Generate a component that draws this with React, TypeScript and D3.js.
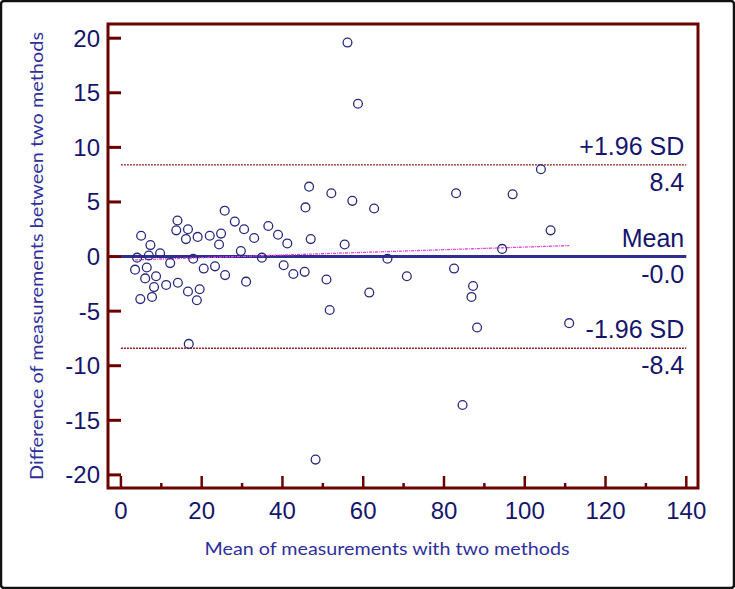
import React from 'react'
import * as d3 from 'd3'

// mean of the two methods (x) and their difference (y), one entry per case
const means = [
  25.7, 45.7, 14.0, 28.2, 36.5, 13.7, 16.6, 30.5, 5.0, 16.1, 19.0, 22.0, 24.8, 24.3, 33.0, 38.9,
  41.2, 47.0, 7.3, 29.7, 4.0, 6.9, 9.7, 17.9, 34.9, 12.2, 3.5, 6.4, 20.5, 23.3, 40.3, 6.0, 8.7,
  25.8, 42.7, 45.5, 11.2, 8.2, 14.1, 31.0, 16.6, 19.5, 4.8, 7.7, 18.8, 16.8, 50.9, 51.7,
  56.1, 58.7, 104.0, 46.6, 52.1, 57.3, 62.7, 83.0, 97.0, 55.4, 94.4, 106.4, 66.0, 82.5, 70.8,
  87.2, 86.8, 61.5, 88.2, 84.6, 48.2, 111.0,
]
const diffs = [
  4.2, 4.5, 3.3, 3.2, 2.8, 2.4, 2.5, 2.5, 1.9, 1.6, 1.8, 1.9, 2.1, 1.1, 1.7, 2.0,
  1.2, 1.6, 1.05, 0.5, -0.1, 0.1, 0.3, -0.2, -0.1, -0.6, -1.2, -1.0, -1.1, -0.9, -0.8, -2.0, -1.8,
  -1.7, -1.6, -1.4, -2.6, -2.8, -2.4, -2.3, -3.2, -3.0, -3.9, -3.7, -4.0, -8.0, -2.1, -4.9,
  19.6, 14.0, 8.0, 6.4, 5.8, 5.1, 4.4, 5.8, 5.7, 1.1, 0.7, 2.4, -0.2, -1.1, -1.8,
  -2.7, -3.7, -3.3, -6.5, -13.6, -18.6, -6.1,
]

// mean difference and limits of agreement
const refValues = [8.4, -0.0, -8.4]
const refTopLabels = ['+1.96 SD', 'Mean', '-1.96 SD']
const refBottomLabels = ['8.4', '-0.0', '-8.4']

// regression of difference on mean
const regIntercept = -0.35
const regSlope = 0.0122

const xTicks = [0, 20, 40, 60, 80, 100, 120, 140]
const xMinorTicks = [10, 30, 50, 70, 90, 110, 130]
const yTicks = [-20, -15, -10, -5, 0, 5, 10, 15, 20]

const W = 735
const H = 589
const plot = { left: 108, top: 24, right: 698, bottom: 488 }
const frameColor = '#6a0000'
const navy = '#15156b'
const titleColor = '#2f2f9a'
const tickFont = "'Liberation Sans', Arial, sans-serif"

export default function App() {
  const x = d3.scaleLinear().domain([-3.2, 142.9]).range([plot.left, plot.right])
  const y = d3.scaleLinear().domain([-21.2, 21.3]).range([plot.bottom, plot.top])

  const xMin = d3.min(means) as number
  const xMax = d3.max(means) as number
  const regLine = d3
    .line<number>()
    .x((d) => x(d))
    .y((d) => y(regIntercept + regSlope * d))

  return (
    <div style={{ position: 'absolute', left: 0, top: 0 }}>
      <svg width={W} height={H} style={{ display: 'block', background: '#fff' }}>
        <rect x={1} y={1} width={W - 2} height={H - 2} fill="#fff" stroke="#111" strokeWidth={2.5} rx={3} />

        {/* reference lines */}
        {refValues.map((v, i) =>
          i === 1 ? (
            <line key={i} x1={x(0)} x2={x(140)} y1={y(v)} y2={y(v)} stroke="#2e2e8c" strokeWidth={3} />
          ) : (
            <line
              key={i}
              x1={x(0)}
              x2={x(140)}
              y1={y(v)}
              y2={y(v)}
              stroke="#8b2020"
              strokeWidth={1.3}
              strokeDasharray="2,1"
            />
          )
        )}
        <path
          d={regLine([xMin, xMax]) || ''}
          fill="none"
          stroke="#e040e0"
          strokeWidth={1.3}
          strokeDasharray="3,1,1,1"
        />

        {refValues.map((v, i) => (
          <g key={'lab' + i} fontFamily={tickFont} fontSize={25} fill={navy} textAnchor="end">
            <text x={x(140) - 2} y={y(v) - 10}>{refTopLabels[i]}</text>
            <text x={x(140) - 2} y={y(v) + 26}>{refBottomLabels[i]}</text>
          </g>
        ))}

        {/* points */}
        {means.map((m, i) => (
          <circle key={i} cx={x(m)} cy={y(diffs[i])} r={4.4} fill="none" stroke="#28287e" strokeWidth={1.3} />
        ))}

        {/* ticks */}
        {yTicks.map((t) => (
          <line key={'yt' + t} x1={plot.left} x2={plot.left + 13} y1={y(t)} y2={y(t)} stroke={frameColor} strokeWidth={3} />
        ))}
        {xTicks.map((t) => (
          <line key={'xt' + t} x1={x(t)} x2={x(t)} y1={plot.bottom} y2={plot.bottom - 12} stroke={frameColor} strokeWidth={2.5} />
        ))}
        {xMinorTicks.map((t) => (
          <line key={'xm' + t} x1={x(t)} x2={x(t)} y1={plot.bottom} y2={plot.bottom - 5} stroke={frameColor} strokeWidth={2.5} />
        ))}

        <rect
          x={plot.left}
          y={plot.top}
          width={plot.right - plot.left}
          height={plot.bottom - plot.top}
          fill="none"
          stroke={frameColor}
          strokeWidth={3}
        />

        {/* tick labels */}
        <g fontFamily={tickFont} fontSize={24} fill={navy}>
          {yTicks.map((t) => (
            <text key={'yl' + t} x={plot.left - 8} y={y(t) + 8.5} textAnchor="end">
              {t}
            </text>
          ))}
          {xTicks.map((t) => (
            <text key={'xl' + t} x={x(t)} y={plot.bottom + 31} textAnchor="middle">
              {t}
            </text>
          ))}
        </g>

        {/* axis titles */}
        <text
          x={387}
          y={555}
          textAnchor="middle"
          fontFamily="Lato, 'Open Sans', sans-serif"
          fontSize={17}
          fill={titleColor}
          textLength={365}
          lengthAdjust="spacingAndGlyphs"
        >
          Mean of measurements with two methods
        </text>
        <text
          transform={`translate(43,256) rotate(-90)`}
          textAnchor="middle"
          fontFamily="Lato, 'Open Sans', sans-serif"
          fontSize={17}
          fill={titleColor}
          textLength={448}
          lengthAdjust="spacingAndGlyphs"
        >
          Difference of measurements between two methods
        </text>
      </svg>
    </div>
  )
}
